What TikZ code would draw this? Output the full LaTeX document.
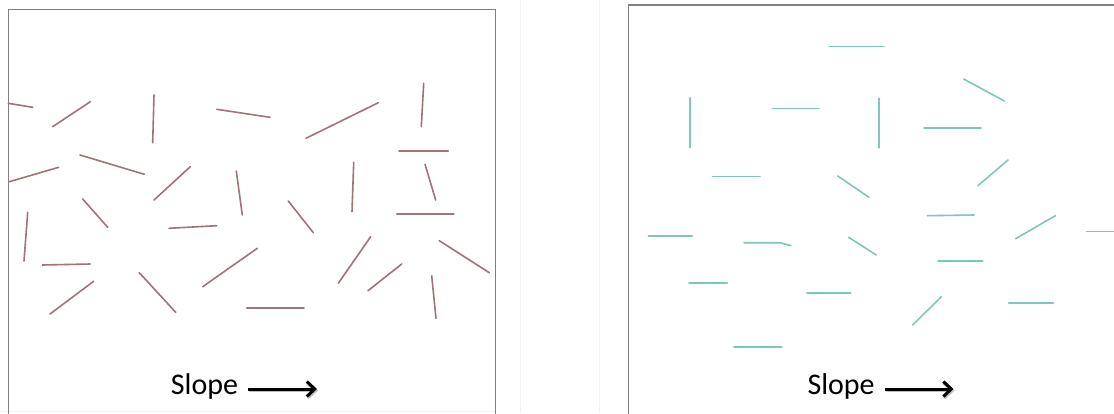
\documentclass[tikz,border=0pt]{standalone}
\usepackage{fontspec}
\setmainfont{Carlito}
\usetikzlibrary{arrows.meta}
\definecolor{mauve}{RGB}{158,116,120}
\definecolor{teal2}{RGB}{128,198,188}
\definecolor{framegray}{RGB}{128,128,128}
\definecolor{sepgray}{RGB}{243,243,243}
\tikzset{
  stick/.style={draw=mauve,line width=1.6pt,line cap=round},
  tstick/.style={draw=teal2,line width=1.6pt,line cap=round},
  frame/.style={draw=framegray,line width=1.5pt},
  lbl/.style={anchor=base west,inner sep=0pt,font=\fontsize{30}{36}\selectfont},
  slopearrow/.style={line width=3pt,-{Straight Barb[length=8pt,width=15pt,line width=3pt]}},
  shadowarrow/.style={draw=black!25,line width=3.4pt,-{Straight Barb[length=8pt,width=15pt,line width=3.4pt]}}
}
\begin{document}
\begin{tikzpicture}[x=1pt,y=-1pt]
\useasboundingbox (0,0) rectangle (1114,413);
\fill[white] (0,0) rectangle (1114,413);
% faint separators
\draw[sepgray,line width=1pt] (520.7,0) -- (520.7,413);
\draw[sepgray,line width=1pt] (599,0) -- (599,413);
\draw[sepgray,line width=1pt] (0,411.7) -- (496,411.7);
% frames
\draw[frame] (8.3,9.3) rectangle (495.7,420);
\begin{scope}
\clip (0,0) rectangle (1114,413);
\draw[frame] (628.3,5) rectangle (1130,430);
\end{scope}
% left sticks
\draw[stick] (8.3,103.3) -- (32.7,107.3);
\draw[stick] (52.7,126.7) -- (90.3,101.7);
\draw[stick] (154,95) -- (152.7,142.7);
\draw[stick] (216.7,109.3) -- (270,117.3);
\draw[stick] (80,155) -- (144.3,174.3);
\draw[stick] (9.3,181.7) -- (58.7,167.3);
\draw[stick] (154,200) -- (190.3,166.7);
\draw[stick] (236.3,171) -- (242.3,215);
\draw[stick] (82.7,199) -- (107.7,227.3);
\draw[stick] (306,138.3) -- (378.3,102.7);
\draw[stick] (423.7,83.3) -- (421.3,126.7);
\draw[stick] (399,151) -- (448.3,151);
\draw[stick] (425,164.3) -- (435.7,200);
\draw[stick] (353.7,162.3) -- (352,211.7);
\draw[stick] (288.3,201) -- (313.3,232.7);
\draw[stick] (27.7,212.3) -- (24,261);
\draw[stick] (169,228.3) -- (216.7,225.7);
\draw[stick] (42.3,265) -- (90,264);
\draw[stick] (50,314) -- (93.7,281.3);
\draw[stick] (139.3,272.7) -- (175.7,312.3);
\draw[stick] (202.7,286.7) -- (257.3,248.3);
\draw[stick] (246.7,307.7) -- (304,307.7);
\draw[stick] (396.7,213.7) -- (453.7,213.7);
\draw[stick] (370.7,236.7) -- (338.3,283.3);
\draw[stick] (401.7,264) -- (368,290.7);
\draw[stick] (439.3,240.7) -- (489.3,272.7);
\draw[stick] (431.7,275.7) -- (436,318.3);
% right sticks
\draw[tstick] (829.3,46.3) -- (884,46.3);
\draw[tstick] (689.7,97.7) -- (689.7,147.7);
\draw[tstick] (772.3,108.3) -- (819,108.3);
\draw[tstick] (712.3,176.3) -- (760,176.3);
\draw[tstick] (837.7,176) -- (869,197.3);
\draw[tstick] (879,98.3) -- (879,147.7);
\draw[tstick] (963.7,79) -- (1004.3,101);
\draw[tstick] (924,128) -- (981,128);
\draw[tstick] (1008,160) -- (978,185.7);
\draw[tstick] (648.3,236) -- (692.3,236);
\draw[tstick] (744,242.7) -- (780,242.7) -- (791,245.7);
\draw[tstick] (848.7,237.3) -- (876.3,255);
\draw[tstick] (689,282.7) -- (727.3,282.7);
\draw[tstick] (807,293) -- (850.7,293);
\draw[tstick] (734,347) -- (781.7,347);
\draw[tstick] (927.3,215.7) -- (974,215);
\draw[tstick] (1015.7,238.7) -- (1055.3,215.7);
\draw[tstick] (1086.3,231.3) -- (1116,231.3);
\draw[tstick] (938,261) -- (982.7,261);
\draw[tstick] (941.3,296.7) -- (912.7,325);
\draw[tstick] (1008.7,303) -- (1053.3,303);
% labels and arrows
\node[lbl] (sl1) at (170.7,394) {Slope};
\coordinate (a1s) at (248,389);
\coordinate (a1e) at (317,389);
\coordinate (a1ss) at (249,390.5);
\coordinate (a1es) at (318,390.5);
\draw[shadowarrow] (a1ss) -- (a1es);
\draw[slopearrow] (a1s) -- (a1e);
\node[lbl] (sl2) at (807.3,394) {Slope};
\coordinate (a2s) at (884.7,389);
\coordinate (a2e) at (953.5,389);
\coordinate (a2ss) at (885.7,390.5);
\coordinate (a2es) at (954.5,390.5);
\draw[shadowarrow] (a2ss) -- (a2es);
\draw[slopearrow] (a2s) -- (a2e);
\end{tikzpicture}
\end{document}
